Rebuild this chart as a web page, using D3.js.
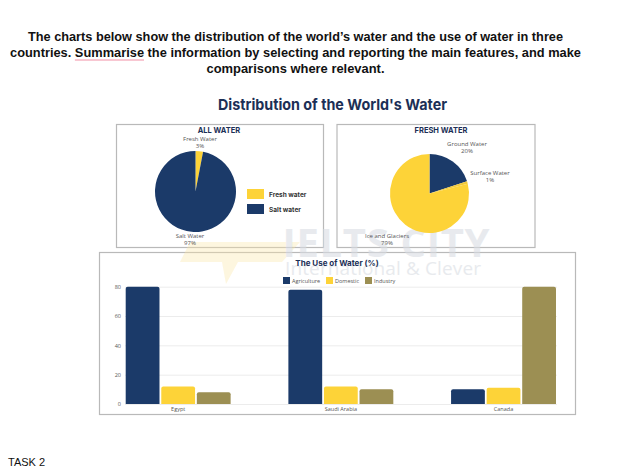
<!DOCTYPE html>
<html>
<head>
	<meta charset="utf-8">
	<title>Distribution of the World's Water</title>
	<script src="https://d3js.org/d3.v7.min.js"></script>
	<style>
		body { margin: 0; background: #fff; }
	</style>
</head>
<body>
	<div class="chart"></div>

	<script type="text/javascript">

		// task text
		const taskLines = [
			'The charts below show the distribution of the world\u2019s water and the use of water in three',
			'countries. Summarise the information by selecting and reporting the main features, and make',
			'comparisons where relevant.'
		]

		// pie data
		const allWaterNames = ['Fresh Water', 'Salt Water']
		const allWaterValues = [3, 97]
		const freshNames = ['Ground Water', 'Surface Water', 'Ice and Glaciers']
		const freshValues = [20, 1, 79]

		// bar data
		const countries = ['Egypt', 'Saudi Arabia', 'Canada']
		const uses = ['Agriculture', 'Domestic', 'Industry']
		const agriculture = [80, 78, 10]
		const domestic = [12, 12, 11]
		const industry = [8, 10, 80]
		const yTicks = [0, 20, 40, 60, 80]

		const width = 624
		const height = 468

		const navy = '#1b3a69'
		const yellow = '#fdd338'
		const olive = '#9c8f53'
		const titleColor = '#1c2f56'
		const labelColor = '#555'

		const svg = d3
			.select('.chart')
			.append('svg')
			.attr('width', width)
			.attr('height', height)
			.style('font-family', 'Liberation Sans, Arial, sans-serif')

		/**
		 * task text
		 */
		const taskWidths = [535, 571, 178]
		const taskNodes = taskLines.map((t, i) => svg.append('text')
			.attr('x', 295.5)
			.attr('y', 41 + i * 16)
			.attr('text-anchor', 'middle')
			.attr('font-size', 13)
			.attr('font-weight', 'bold')
			.attr('fill', '#111')
			.attr('textLength', taskWidths[i])
			.attr('lengthAdjust', 'spacingAndGlyphs')
			.text(t))

		// spell check underline under "Summarise"
		const line2 = taskNodes[1].node()
		const si = taskLines[1].indexOf('Summarise')
		const ux1 = line2.getStartPositionOfChar(si).x
		const ux2 = line2.getEndPositionOfChar(si + 'Summarise'.length - 1).x
		svg.append('line')
			.attr('x1', ux1).attr('x2', ux2)
			.attr('y1', 60).attr('y2', 60)
			.attr('stroke', '#f28fa6')
			.attr('stroke-width', 1.2)

		svg.append('text')
			.attr('x', 8)
			.attr('y', 466)
			.attr('font-size', 11)
			.attr('fill', '#111')
			.text('TASK 2')

		/**
		 * main title and panels
		 */
		svg.append('text')
			.attr('x', 332.5)
			.attr('y', 110)
			.attr('text-anchor', 'middle')
			.attr('font-family', 'Inter, Open Sans, sans-serif')
			.attr('font-size', 15)
			.attr('font-weight', 'bold')
			.attr('fill', titleColor)
			.attr('textLength', 229)
			.attr('lengthAdjust', 'spacingAndGlyphs')
			.text('Distribution of the World\'s Water')

		const panels = [
			{ x: 116, y: 124, w: 207, h: 123 },
			{ x: 336.5, y: 124, w: 198, h: 123 },
			{ x: 99, y: 252, w: 476, h: 162 }
		]
		svg.append('g')
			.selectAll('rect')
			.data(panels)
			.join('rect')
			.attr('x', (d) => d.x + 0.5)
			.attr('y', (d) => d.y + 0.5)
			.attr('width', (d) => d.w)
			.attr('height', (d) => d.h)
			.attr('fill', '#fff')
			.attr('stroke', '#b9b9b9')
			.attr('stroke-width', 1.2)

		/**
		 * watermark
		 */
		const wm = svg.append('g').attr('opacity', 0.6)
		wm.append('path')
			.attr('d', 'M190,242 L300,242 L282,262 L238,262 L226,284 L222,262 L180,262 Z')
			.attr('fill', '#fbe7a6')
			.attr('opacity', 0.6)
		wm.append('text')
			.attr('x', 386).attr('y', 257)
			.attr('text-anchor', 'middle')
			.attr('font-family', 'Open Sans, sans-serif')
			.attr('font-size', 40)
			.attr('font-weight', 'bold')
			.attr('fill', '#d9dde3')
			.attr('textLength', 207)
			.text('IELTS CITY')
		wm.append('text')
			.attr('x', 383).attr('y', 275)
			.attr('text-anchor', 'middle')
			.attr('font-family', 'Open Sans, sans-serif')
			.attr('font-size', 19)
			.attr('fill', '#d9dde3')
			.attr('textLength', 196)
			.text('International & Clever')

		/**
		 * pies
		 */
		const pie = d3.pie().sort(null).value((d) => d.value)
		const smallText = (g, x, y, t, anchor) => g.append('text')
			.attr('x', x).attr('y', y)
			.attr('text-anchor', anchor || 'middle')
			.attr('font-family', 'Open Sans, sans-serif')
			.attr('font-size', 6)
			.attr('fill', labelColor)
			.text(t)

		// all water
		const allData = allWaterNames.map((n, i) => ({ name: n, value: allWaterValues[i] }))
		const allColor = d3.scaleOrdinal().domain(allWaterNames).range([yellow, navy])
		const p1 = svg.append('g')
		p1.append('text')
			.attr('x', 219).attr('y', 133)
			.attr('text-anchor', 'middle')
			.attr('font-family', 'Inter, sans-serif')
			.attr('font-size', 7.5)
			.attr('font-weight', 'bold')
			.attr('fill', titleColor)
			.text('ALL WATER')
		p1.append('g')
			.attr('transform', 'translate(195.5, 191.5)')
			.selectAll('path')
			.data(pie(allData))
			.join('path')
			.attr('d', d3.arc().innerRadius(0).outerRadius(40.5))
			.attr('fill', (d) => allColor(d.data.name))
		smallText(p1, 200, 141, 'Fresh Water')
		smallText(p1, 200, 148, allWaterValues[0] + '%')
		smallText(p1, 190, 238, 'Salt Water')
		smallText(p1, 190, 245, allWaterValues[1] + '%')

		const legend1 = p1.append('g')
			.selectAll('g')
			.data(['Fresh water', 'Salt water'])
			.join('g')
			.attr('transform', (d, i) => `translate(247, ${189 + i * 15})`)
		legend1.append('rect')
			.attr('width', 17).attr('height', 10)
			.attr('fill', (d, i) => allColor(allWaterNames[i]))
		legend1.append('text')
			.attr('x', 22).attr('y', 7.5)
			.attr('font-family', 'Inter, sans-serif')
			.attr('font-size', 6.5)
			.attr('font-weight', 'bold')
			.attr('fill', '#333')
			.text((d) => d)

		// fresh water
		const freshData = freshNames.map((n, i) => ({ name: n, value: freshValues[i] }))
		const freshColor = d3.scaleOrdinal().domain(freshNames).range([navy, '#f2c93a', yellow])
		const p2 = svg.append('g')
		p2.append('text')
			.attr('x', 441).attr('y', 133)
			.attr('text-anchor', 'middle')
			.attr('font-family', 'Inter, sans-serif')
			.attr('font-size', 7.5)
			.attr('font-weight', 'bold')
			.attr('fill', titleColor)
			.text('FRESH WATER')
		p2.append('g')
			.attr('transform', 'translate(429.5, 193.5)')
			.selectAll('path')
			.data(pie(freshData))
			.join('path')
			.attr('d', d3.arc().innerRadius(0).outerRadius(39.5))
			.attr('fill', (d) => freshColor(d.data.name))
		smallText(p2, 467, 146, 'Ground Water')
		smallText(p2, 467, 153, freshValues[0] + '%')
		smallText(p2, 490, 175, 'Surface Water')
		smallText(p2, 490, 182, freshValues[1] + '%')
		smallText(p2, 387, 238, 'Ice and Glaciers')
		smallText(p2, 387, 245, freshValues[2] + '%')

		/**
		 * bar chart
		 */
		const bars = svg.append('g')
		bars.append('text')
			.attr('x', 337).attr('y', 266)
			.attr('text-anchor', 'middle')
			.attr('font-family', 'Inter, sans-serif')
			.attr('font-size', 8)
			.attr('font-weight', 'bold')
			.attr('fill', titleColor)
			.text('The Use of Water (%)')

		const useColor = d3.scaleOrdinal().domain(uses).range([navy, yellow, olive])
		const legX = [283, 326, 365]
		const legend2 = bars.append('g')
			.selectAll('g')
			.data(uses)
			.join('g')
			.attr('transform', (d, i) => `translate(${legX[i]}, 277)`)
		legend2.append('rect')
			.attr('width', 7).attr('height', 7)
			.attr('fill', (d) => useColor(d))
		legend2.append('text')
			.attr('x', 9).attr('y', 6)
			.attr('font-family', 'Open Sans, sans-serif')
			.attr('font-size', 5.5)
			.attr('fill', labelColor)
			.text((d) => d)

		const y = d3.scaleLinear().domain([0, 80]).range([404, 286.7])
		const x0 = d3.scaleBand().domain(countries).range([125.7, 556]).paddingInner(0.355).paddingOuter(0)
		const x1 = d3.scaleBand().domain(uses).range([0, x0.bandwidth()]).paddingInner(0.05)

		const yAxis = bars.append('g')
			.attr('transform', 'translate(125, 0)')
			.call(d3.axisLeft(y).tickValues(yTicks).tickSize(-432).tickPadding(4))
		yAxis.select('.domain').remove()
		yAxis.selectAll('line').attr('stroke', '#ececec')
		yAxis.selectAll('text')
			.attr('font-family', 'Open Sans, sans-serif')
			.attr('font-size', 5.5)
			.attr('fill', labelColor)

		const seriesVals = [agriculture, domestic, industry]
		const barData = []
		countries.forEach((c, ci) => {
			uses.forEach((u, ui) => {
				barData.push({ country: c, use: u, value: seriesVals[ui][ci] })
			})
		})

		const r = 2
		bars.append('g')
			.selectAll('path')
			.data(barData)
			.join('path')
			.attr('fill', (d) => useColor(d.use))
			.attr('d', (d) => {
				const bx = x0(d.country) + x1(d.use)
				const bw = x1.bandwidth()
				const top = y(d.value)
				const base = y(0)
				return `M${bx},${base} V${top + r} Q${bx},${top} ${bx + r},${top} H${bx + bw - r} Q${bx + bw},${top} ${bx + bw},${top + r} V${base} Z`
			})

		const xAxis = bars.append('g')
			.attr('transform', 'translate(0, 404)')
			.call(d3.axisBottom(x0).tickSize(0).tickPadding(3))
		xAxis.select('.domain').remove()
		xAxis.selectAll('text')
			.attr('font-family', 'Open Sans, sans-serif')
			.attr('font-size', 5.5)
			.attr('fill', labelColor)

	</script>
</body>
</html>
